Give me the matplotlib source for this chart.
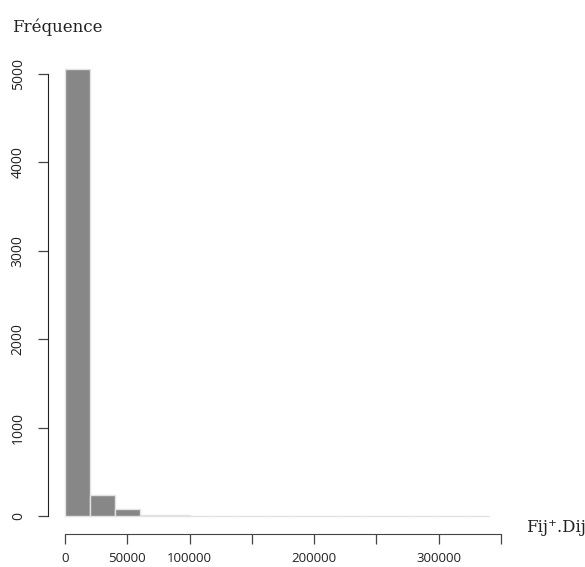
import numpy as np
import matplotlib
matplotlib.use('Agg')
import matplotlib.pyplot as plt

# histogramme des Fij+.Dij (classes de 20000)
bin_edges = list(range(0, 340001, 20000))
counts = [5051, 238, 76, 16, 18, 4, 5, 2, 2, 3, 2, 1, 1, 2, 2, 2, 2]
x_ticks = [0, 50000, 100000, 150000, 200000, 250000, 300000, 350000]
x_labels = ['0', '50000', '100000', '', '200000', '', '300000', '']
y_ticks = [0, 1000, 2000, 3000, 4000, 5000]

fig = plt.figure(figsize=(5.85, 5.67), dpi=100)
ax = fig.add_axes([48 / 585, 33 / 567, 457.6 / 585, 482.4 / 567])

left = bin_edges[:-1]
widths = np.diff(bin_edges)
ax.bar(left, counts, width=widths, align='edge', color='#878787',
       edgecolor='#e2e2e2', linewidth=1)

ax.set_xlim(-13600, 353600)
ax.set_ylim(-202, 5253)

for s in ['top', 'right']:
    ax.spines[s].set_visible(False)
ax.spines['left'].set_bounds(0, 5000)
ax.spines['bottom'].set_bounds(0, 350000)
ax.spines['left'].set_color('#222222')
ax.spines['bottom'].set_color('#444444')

ax.set_xticks(x_ticks)
ax.set_xticklabels(x_labels, fontfamily='Open Sans', fontsize=9.5)
ax.set_yticks(y_ticks)
ax.set_yticklabels([str(v) for v in y_ticks], fontfamily='Open Sans',
                   fontsize=10, rotation=90, va='center')
ax.tick_params(axis='both', direction='out', length=7, width=0.9,
               colors='#444444', labelcolor='#222222')
ax.tick_params(axis='x', pad=6)
ax.tick_params(axis='y', pad=9)

fig.text(12 / 585, 1 - 27 / 567, 'Fréquence', family='DejaVu Serif',
         fontsize=12, color='#222222', va='center', ha='left')
fig.text(526 / 585, 1 - 527 / 567, 'Fij\u207a.Dij', family='DejaVu Serif',
         fontsize=12, color='#222222', va='center', ha='left')

fig.savefig('out.png', dpi=100)
